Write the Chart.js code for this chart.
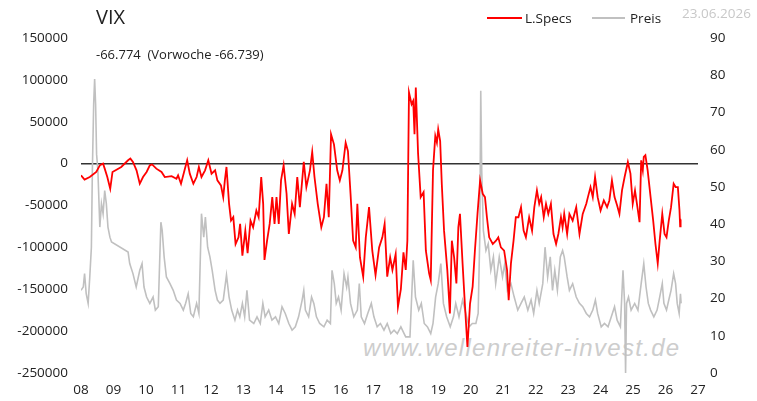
<!DOCTYPE html>
<html>
<head>
<meta charset="utf-8">
<script src="https://cdn.jsdelivr.net/npm/chart.js@4.4.1/dist/chart.umd.min.js"></script>
<style>
  html, body { margin:0; padding:0; background:#fff; }
  #wrap { position:relative; width:757px; height:401px; overflow:hidden; font-family:"Open Sans", "Liberation Sans", Arial, sans-serif; color:#222; }
  #c { position:absolute; left:0; top:0; z-index:2; }
  .t { position:absolute; white-space:pre; z-index:3; }
  #wm { position:absolute; left:363px; top:334px; z-index:1; font-family:"Liberation Sans", Arial, sans-serif; font-style:italic; font-size:24px; line-height:28px; letter-spacing:1.3px; color:#cdcdcd; white-space:nowrap; }
  .sw { position:absolute; height:2px; z-index:3; }
</style>
</head>
<body>
<div id="wrap">
  <div id="wm">www.wellenreiter-invest.de</div>
  <canvas id="c" width="757" height="401"></canvas>
  <div class="t" id="title" style="left:96px; top:7px; font-size:20px; line-height:20px;">VIX</div>
  <div class="t" id="sub" style="left:96px; top:46px; font-size:13px; line-height:16px;"></div>
  <div class="sw" style="left:487px; top:17px; width:35px; background:#ff0000;"></div>
  <div class="t" id="lg1" style="left:525px; top:10px; font-size:13.5px; line-height:16px;"></div>
  <div class="sw" style="left:592px; top:17px; width:33px; background:#c0c0c0;"></div>
  <div class="t" id="lg2" style="left:630px; top:10px; font-size:13.5px; line-height:16px;"></div>
  <div class="t" id="date" style="left:682px; top:5px; font-size:13.5px; line-height:16px; color:#c8c8c8;"></div>
</div>
<script>
// ---- data ----
const titleText = "VIX";
const lastValueText = "-66.774";
const prevWeekText = "-66.739";
const dateText = "23.06.2026";
const seriesNames = ["L.Specs", "Preis"];

// Large speculators net position (left axis)
const specDates = [2008.00,2008.11,2008.27,2008.47,2008.58,2008.68,2008.73,2008.81,2008.90,2008.97,
2009.24,2009.45,2009.52,2009.60,2009.71,2009.81,2009.91,2010.02,2010.12,2010.19,
2010.32,2010.48,2010.58,2010.79,2010.94,2010.99,2011.08,2011.20,2011.27,2011.35,
2011.46,2011.56,2011.63,2011.71,2011.82,2011.92,2012.02,2012.13,2012.20,2012.31,
2012.38,2012.43,2012.48,2012.56,2012.62,2012.69,2012.76,2012.85,2012.90,2012.97,
2013.06,2013.13,2013.22,2013.30,2013.40,2013.47,2013.55,2013.61,2013.65,2013.73,
2013.81,2013.89,2013.96,2014.02,2014.09,2014.16,2014.24,2014.33,2014.40,2014.50,
2014.58,2014.66,2014.74,2014.86,2014.94,2015.05,2015.12,2015.19,2015.29,2015.40,
2015.48,2015.56,2015.63,2015.70,2015.79,2015.89,2015.97,2016.05,2016.15,2016.22,
2016.30,2016.38,2016.46,2016.51,2016.59,2016.69,2016.77,2016.87,2016.97,2017.07,
2017.18,2017.28,2017.35,2017.43,2017.52,2017.59,2017.69,2017.76,2017.85,2017.93,
2018.00,2018.05,2018.10,2018.18,2018.23,2018.27,2018.31,2018.38,2018.46,2018.55,
2018.62,2018.72,2018.77,2018.84,2018.91,2018.96,2019.00,2019.06,2019.11,2019.18,
2019.28,2019.36,2019.42,2019.49,2019.56,2019.62,2019.67,2019.75,2019.82,2019.90,
2019.98,2020.06,2020.13,2020.21,2020.29,2020.37,2020.44,2020.50,2020.57,2020.68,
2020.78,2020.85,2020.93,2021.03,2021.12,2021.17,2021.24,2021.32,2021.39,2021.47,
2021.55,2021.63,2021.70,2021.80,2021.89,2021.96,2022.04,2022.11,2022.17,2022.25,
2022.32,2022.39,2022.47,2022.55,2022.63,2022.70,2022.78,2022.83,2022.88,2022.97,
2023.04,2023.14,2023.25,2023.35,2023.45,2023.56,2023.61,2023.69,2023.76,2023.83,
2023.91,2024.00,2024.10,2024.20,2024.27,2024.35,2024.43,2024.51,2024.58,2024.66,
2024.74,2024.84,2024.92,2024.99,2025.06,2025.15,2025.20,2025.25,2025.30,2025.33,
2025.38,2025.45,2025.54,2025.62,2025.69,2025.76,2025.82,2025.90,2025.97,2026.03,
2026.10,2026.17,2026.25,2026.31,2026.38,2026.43,2026.45,2026.465,2026.48];
const specValues = [-14000,-19000,-16000,-10000,-2000,0,-6000,-16000,-30000,-10000,
-4000,4000,6000,2000,-8000,-24000,-16000,-10000,-2000,-1000,
-6000,-10000,-16000,-15000,-18000,-14000,-24000,-6000,4000,-12000,
-24000,-16000,-4000,-16000,-8000,4000,-12000,-8000,-20000,-26000,
-40000,-20000,-4000,-48000,-68000,-64000,-96000,-88000,-72000,-110000,
-80000,-107000,-68000,-76000,-56000,-64000,-16000,-48000,-115000,-92000,
-72000,-40000,-72000,-40000,-72000,-20000,-2000,-36000,-84000,-48000,
-60000,-16000,-52000,2000,-28000,-8000,14000,-16000,-48000,-76000,
-64000,-24000,-64000,35000,23000,-8000,-20000,-8000,25000,15000,
-36000,-92000,-100000,-48000,-112000,-135000,-88000,-52000,-104000,-133000,
-100000,-88000,-72000,-135000,-112000,-127000,-108000,-171000,-150000,-106000,
-127000,-92000,85000,71000,75000,35000,91000,12000,-40000,-34000,
-104000,-131000,-139000,-8000,33000,25000,41000,27000,-24000,-80000,
-127000,-179000,-92000,-112000,-143000,-76000,-60000,-119000,-167000,-219000,
-167000,-147000,-104000,-60000,-20000,-36000,-40000,-64000,-88000,-96000,
-92000,-88000,-100000,-104000,-127000,-163000,-119000,-92000,-64000,-64000,
-52000,-80000,-88000,-64000,-80000,-52000,-32000,-48000,-40000,-64000,
-48000,-60000,-48000,-84000,-96000,-84000,-64000,-76000,-60000,-84000,
-60000,-68000,-52000,-84000,-60000,-48000,-40000,-28000,-40000,-16000,
-40000,-56000,-44000,-52000,-44000,-20000,-40000,-50000,-60000,-32000,
-16000,2000,-12000,-48000,-32000,-56000,-70000,4000,-8000,8000,
10000,-8000,-40000,-68000,-96000,-119000,-92000,-60000,-84000,-88000,
-68000,-52000,-24000,-28000,-28000,-56000,-75000,-66739,-66774];

// VIX price (right axis)
const priceDates = [2008.00,2008.07,2008.11,2008.16,2008.22,2008.27,2008.32,2008.35,2008.39,2008.42,
2008.45,2008.48,2008.52,2008.58,2008.63,2008.68,2008.73,2008.78,2008.83,2008.89,
2008.94,2009.45,2009.50,2009.60,2009.70,2009.81,2009.88,2009.94,2010.02,2010.12,
2010.22,2010.29,2010.38,2010.46,2010.50,2010.56,2010.63,2010.74,2010.84,2010.94,
2011.05,2011.15,2011.22,2011.30,2011.38,2011.46,2011.56,2011.63,2011.71,2011.78,
2011.83,2011.90,2011.97,2012.04,2012.13,2012.20,2012.28,2012.38,2012.48,2012.56,
2012.64,2012.74,2012.82,2012.89,2012.97,2013.04,2013.11,2013.19,2013.32,2013.42,
2013.52,2013.60,2013.67,2013.78,2013.88,2013.99,2014.09,2014.19,2014.29,2014.40,
2014.50,2014.60,2014.70,2014.81,2014.86,2014.91,2015.01,2015.10,2015.17,2015.25,
2015.35,2015.48,2015.58,2015.68,2015.73,2015.80,2015.86,2015.93,2016.01,2016.10,
2016.18,2016.22,2016.30,2016.40,2016.51,2016.57,2016.63,2016.73,2016.83,2016.94,
2017.02,2017.12,2017.22,2017.33,2017.43,2017.54,2017.64,2017.74,2017.85,2017.95,
2018.00,2018.13,2018.23,2018.30,2018.40,2018.48,2018.57,2018.67,2018.77,2018.84,
2018.92,2019.00,2019.08,2019.16,2019.26,2019.37,2019.47,2019.54,2019.64,2019.75,
2019.85,2019.95,2020.05,2020.16,2020.23,2020.28,2020.31,2020.34,2020.39,2020.47,
2020.54,2020.62,2020.70,2020.77,2020.88,2020.98,2021.05,2021.13,2021.24,2021.34,
2021.45,2021.55,2021.65,2021.76,2021.86,2021.94,2022.04,2022.11,2022.22,2022.29,
2022.37,2022.45,2022.52,2022.59,2022.67,2022.76,2022.83,2022.88,2022.97,2023.04,
2023.14,2023.25,2023.35,2023.45,2023.56,2023.66,2023.76,2023.84,2023.91,2024.02,
2024.12,2024.23,2024.33,2024.43,2024.51,2024.61,2024.69,2024.74,2024.77,2024.80,
2024.86,2024.94,2025.05,2025.15,2025.25,2025.33,2025.40,2025.47,2025.54,2025.64,
2025.74,2025.82,2025.90,2025.95,2026.03,2026.10,2026.17,2026.25,2026.31,2026.36,
2026.42,2026.46,2026.48];
const priceValues = [22.2,23.1,26.7,21.3,18.7,25.8,33.8,54.4,72.2,79.0,
72.2,58.8,54.4,39.2,45.5,42.8,49.0,45.5,39.2,36.5,
35.2,32.5,29.4,26.7,23.1,27.6,29.4,23.1,20.4,18.7,
20.4,16.9,17.8,40.5,38.3,31.2,25.8,24.0,22.2,19.6,
18.7,16.9,18.7,21.3,16.0,15.1,18.7,16.0,42.8,36.5,
41.9,33.8,31.2,27.6,22.2,19.6,18.7,19.6,26.3,20.4,
16.9,14.2,16.9,15.1,18.7,15.1,22.2,14.2,13.3,15.1,
13.3,18.7,15.1,16.9,14.2,15.1,13.3,17.8,16.0,13.3,
11.5,12.4,15.1,19.6,22.2,16.9,15.1,20.4,18.7,15.1,
13.3,12.4,14.2,13.3,27.6,24.0,18.7,20.4,16.9,26.7,
23.1,25.8,18.7,15.1,16.9,24.0,15.1,13.3,16.0,18.7,
15.1,12.4,13.3,11.5,13.3,10.6,11.5,10.6,12.4,10.6,
9.7,9.7,30.3,20.4,16.9,18.7,13.3,12.4,10.6,13.3,
20.4,24.0,29.4,18.7,15.1,12.4,15.1,18.7,15.1,19.6,
16.0,12.4,13.3,13.3,16.0,36.5,75.8,54.4,38.3,32.9,
34.7,27.6,31.2,24.0,31.2,25.8,29.4,22.2,24.0,20.4,
16.9,18.7,20.4,16.9,19.6,16.0,22.2,18.7,24.0,33.8,
25.8,31.2,22.2,27.6,22.2,31.2,32.9,31.2,25.8,22.2,
24.0,20.4,18.7,17.8,16.0,15.1,16.9,19.6,16.0,12.4,
13.3,12.4,15.1,17.8,14.2,12.4,27.6,18.7,0,18.7,
20.4,16.9,18.7,16.9,24.0,29.4,23.1,18.7,16.9,15.1,
16.9,20.4,24.0,18.7,16.9,19.6,22.2,26.7,24.0,18.7,
16.0,21.3,18.7];

// axis settings
const leftMin = -250000, leftMax = 150000, leftStep = 50000;
const rightMin = 0, rightMax = 90, rightStep = 10;
const yearMin = 2008, yearMax = 2027;

document.getElementById('title').textContent = titleText;
document.getElementById('sub').textContent = lastValueText + "  (Vorwoche " + prevWeekText + ")";
document.getElementById('lg1').textContent = seriesNames[0];
document.getElementById('lg2').textContent = seriesNames[1];
document.getElementById('date').textContent = dateText;

const toPts = (xs, ys) => xs.map((x, i) => ({x: x, y: ys[i]}));
const tickFont = {family: "'Open Sans', 'Liberation Sans', Arial, sans-serif", size: 13.5};

const zeroLine = {
  id: 'zeroLine',
  beforeDatasetsDraw(chart) {
    const ctx = chart.ctx, a = chart.chartArea, y = chart.scales.y.getPixelForValue(0);
    ctx.save();
    ctx.strokeStyle = '#333333';
    ctx.lineWidth = 1.5;
    ctx.beginPath();
    ctx.moveTo(a.left, y);
    ctx.lineTo(a.right, y);
    ctx.stroke();
    ctx.restore();
  }
};

new Chart(document.getElementById('c'), {
  type: 'line',
  data: {
    datasets: [
      {label: seriesNames[0], data: toPts(specDates, specValues), yAxisID: 'y', borderColor: '#ff0000', borderWidth: 1.8, pointRadius: 0, tension: 0},
      {label: seriesNames[1], data: toPts(priceDates, priceValues), yAxisID: 'y1', borderColor: '#c0c0c0', borderWidth: 1.6, pointRadius: 0, tension: 0}
    ]
  },
  options: {
    responsive: false,
    animation: false,
    layout: {padding: {top: 38, left: 0, right: 0, bottom: 0}},
    plugins: {legend: {display: false}, tooltip: {enabled: false}, title: {display: false}},
    scales: {
      x: {
        type: 'linear', min: yearMin, max: yearMax,
        grid: {display: false, drawTicks: false}, border: {display: false},
        ticks: {stepSize: 1, autoSkip: false, maxRotation: 0, padding: 9, color: '#222', font: tickFont,
          callback: v => String(Math.round(v)).slice(2)},
        afterFit: s => { s.height = 28; }
      },
      y: {
        position: 'left', min: leftMin, max: leftMax,
        grid: {display: false, drawTicks: false}, border: {display: false},
        ticks: {stepSize: leftStep, padding: 13, color: '#222', font: tickFont, callback: v => String(Math.round(v))},
        afterFit: s => { s.width = 81; }
      },
      y1: {
        position: 'right', min: rightMin, max: rightMax,
        grid: {display: false, drawTicks: false}, border: {display: false},
        ticks: {stepSize: rightStep, padding: 12, color: '#222', font: tickFont, callback: v => String(Math.round(v))},
        afterFit: s => { s.width = 59; }
      }
    }
  },
  plugins: [zeroLine]
});
</script>
</body>
</html>
